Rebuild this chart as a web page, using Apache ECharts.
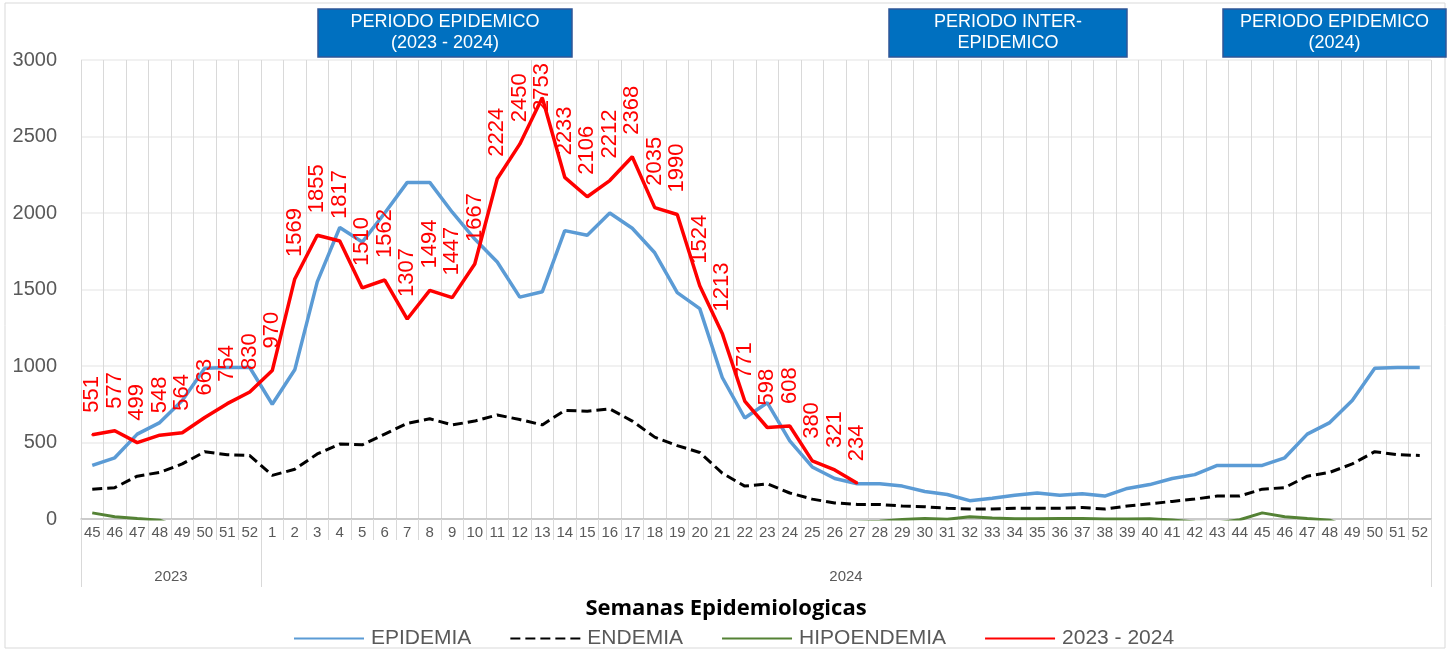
<!DOCTYPE html>
<html>
<head>
<meta charset="utf-8">
<script src="https://cdn.jsdelivr.net/npm/echarts@6/dist/echarts.min.js"></script>
<style>
  html, body { margin: 0; padding: 0; background: #fff; }
  #main { width: 1452px; height: 651px; }
</style>
</head>
<body>
<div id="main"></div>
<script>
// semanas epidemiologicas: 45-52 de 2023 y 1-52 de 2024
var weeks = ['45','46','47','48','49','50','51','52',
  '1','2','3','4','5','6','7','8','9','10','11','12','13','14','15','16','17','18','19','20',
  '21','22','23','24','25','26','27','28','29','30','31','32','33','34','35','36','37','38','39','40',
  '41','42','43','44','45','46','47','48','49','50','51','52'];
var years = ['2023', '2024'];
var yearBounds = [0, 8, 60]; // limites de cada año en numero de semanas

var epidemia = [350, 400, 555, 630, 775, 985, 990, 990,
  750, 975, 1550, 1905, 1810, 2000, 2200, 2200, 2005, 1830, 1680, 1450, 1485, 1885, 1855, 2000, 1900, 1740, 1480, 1375,
  925, 660, 760, 510, 340, 265, 230, 230, 215, 180, 160, 120, 135, 155, 170, 155, 165, 150, 200, 225,
  265, 290, 350, 350, 350, 400, 555, 630, 775, 985, 990, 990];

var endemia = [195, 205, 280, 305, 360, 440, 420, 415,
  285, 325, 425, 490, 485, 555, 625, 655, 615, 640, 680, 650, 615, 710, 705, 720, 640, 535, 480, 435,
  300, 215, 230, 170, 130, 105, 95, 95, 85, 80, 70, 65, 65, 70, 70, 70, 75, 65, 85, 100,
  115, 130, 150, 150, 195, 205, 280, 305, 360, 440, 420, 415];

// por debajo de 0 no se ve en el grafico
var hipoendemia = [40, 15, 3, -8, -60, -90, -110, -120,
  -150, -200, -250, -300, -320, -350, -380, -400, -380, -360, -340, -300, -280, -250, -230, -200, -180, -160, -140, -120,
  -100, -80, -60, -50, -40, -30, -20, -15, -4, 3, -2, 15, 6, 1, 2, 3, 3, 0, 0, 2,
  -6, -20, -25, -5, 40, 15, 3, -8, -60, -90, -110, -120];

var casos2324 = [551, 577, 499, 548, 564, 663, 754, 830,
  970, 1569, 1855, 1817, 1510, 1562, 1307, 1494, 1447, 1667, 2224, 2450, 2753, 2233, 2106, 2212, 2368, 2035, 1990, 1524,
  1213, 771, 598, 608, 380, 321, 234];

var yAxisMax = 3000, yAxisStep = 500;

var FONT = 'Liberation Sans';
var LABEL_GAP = 21, LABEL_TOP = 64;
var chart = echarts.init(document.getElementById('main'));

// posicion central de cada año
var yearMid = [];
for (var i = 0; i < years.length; i++) {
  yearMid.push((yearBounds[i] + yearBounds[i + 1]) / 2);
}

function periodo(x, w, txt) {
  return {
    type: 'group',
    children: [
      { type: 'rect', shape: { x: x, y: 9, width: w, height: 48 },
        style: { fill: '#0070c0', stroke: '#2f5597', lineWidth: 1.5 } },
      { type: 'text', x: x + w / 2, y: 33,
        style: { text: txt, fill: '#ffffff', font: '18px ' + FONT, align: 'center', verticalAlign: 'middle', lineHeight: 21 } }
    ]
  };
}

var option = {
  animation: false,
  textStyle: { fontFamily: FONT },
  title: {
    text: 'Semanas Epidemiologicas',
    left: 'center',
    top: 593,
    textStyle: { fontFamily: 'Open Sans', fontWeight: 'bold', fontSize: 22, color: '#000' }
  },
  legend: {
    top: 623,
    left: 288,
    itemWidth: 70,
    itemHeight: 10,
    itemGap: 38,
    itemStyle: { opacity: 0 },
    textStyle: { fontSize: 21, color: '#595959', padding: [0, 0, 0, 2] },
    data: ['EPIDEMIA', 'ENDEMIA', 'HIPOENDEMIA', '2023 - 2024']
  },
  grid: { left: 81, right: 21, top: 60, bottom: 132 },
  xAxis: [{
    type: 'category',
    data: weeks,
    boundaryGap: true,
    axisLine: { lineStyle: { color: '#bfbfbf', width: 1.5 } },
    axisTick: { show: true, interval: 0, length: 21, lineStyle: { color: '#d9d9d9' } },
    axisLabel: { interval: 0, color: '#595959', fontSize: 15, margin: 6 },
    splitLine: { show: true, interval: 0, lineStyle: { color: '#d9d9d9' } }
  }, {
    type: 'value',
    min: 0,
    max: yearBounds[yearBounds.length - 1],
    position: 'bottom',
    axisLine: { show: false },
    splitLine: { show: false },
    axisTick: { show: true, customValues: yearBounds, length: 68, lineStyle: { color: '#d9d9d9' } },
    axisLabel: {
      customValues: yearMid,
      margin: 50,
      color: '#595959',
      fontSize: 15,
      formatter: function (v) { return years[yearMid.indexOf(v)] || ''; }
    }
  }],
  yAxis: {
    type: 'value',
    min: 0,
    max: yAxisMax,
    interval: yAxisStep,
    axisLine: { show: false },
    axisTick: { show: false },
    axisLabel: { color: '#595959', fontSize: 20, margin: 24, formatter: function (v) { return String(v); } },
    splitLine: { lineStyle: { color: '#ececec', width: 1.5 } }
  },
  series: [{
    name: 'EPIDEMIA',
    type: 'line',
    data: epidemia,
    symbol: 'none',
    color: '#5b9bd5',
    lineStyle: { width: 3.5, color: '#5b9bd5' }
  }, {
    name: 'ENDEMIA',
    type: 'line',
    data: endemia,
    symbol: 'none',
    color: '#000000',
    lineStyle: { width: 3, color: '#000000', type: [10, 5] }
  }, {
    name: 'HIPOENDEMIA',
    type: 'line',
    data: hipoendemia,
    symbol: 'none',
    color: '#548235',
    lineStyle: { width: 3, color: '#548235' }
  }, {
    name: '2023 - 2024',
    type: 'line',
    data: casos2324,
    symbol: 'circle',
    symbolSize: 2,
    showSymbol: true,
    color: '#ff0000',
    lineStyle: { width: 3.5, color: '#ff0000' },
    label: {
      show: true,
      position: 'top',
      distance: LABEL_GAP,
      rotate: 90,
      align: 'left',
      verticalAlign: 'middle',
      color: '#ff0000',
      fontSize: 22
    }
  }],
  graphic: [
    { type: 'rect', shape: { x: 5, y: 3, width: 1440, height: 645 },
      style: { fill: 'none', stroke: '#d9d9d9', lineWidth: 1 }, z: -1 },
    periodo(318, 254, 'PERIODO EPIDEMICO\n(2023 - 2024)'),
    periodo(889, 238, 'PERIODO INTER-\nEPIDEMICO'),
    periodo(1223, 223, 'PERIODO EPIDEMICO\n(2024)')
  ]
};

chart.setOption(option);

//etiquetas que se salen por arriba del area se bajan (como en excel)
var labelFont = option.series[3].label.fontSize + 'px ' + FONT;
var ctx = document.createElement('canvas').getContext('2d');
ctx.font = labelFont;
var redData = casos2324.map(function (v, idx) {
  var py = chart.convertToPixel({ seriesIndex: 3 }, [idx, v])[1];
  var len = ctx.measureText(String(v)).width;
  var top = py - LABEL_GAP - len;
  if (top < LABEL_TOP) {
    return { value: v, label: { distance: LABEL_GAP - (LABEL_TOP - top) } };
  }
  return v;
});
chart.setOption({ series: [{}, {}, {}, { data: redData }] });
</script>
</body>
</html>
